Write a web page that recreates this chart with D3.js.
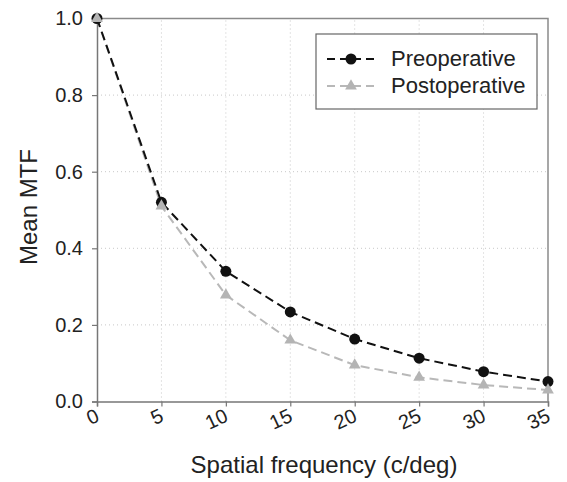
<!doctype html>
<html>
<head>
<style>
  body { margin: 0; background: #fff; }
  text { font-family: "Liberation Sans", Arial, sans-serif; }
</style>
<script src="https://d3js.org/d3.v7.min.js"></script>
</head>
<body>
<svg width="567" height="482"></svg>
<script>
// data
var freq = [0, 5, 10, 15, 20, 25, 30, 35];
var preop = [1.0, 0.52, 0.34, 0.234, 0.163, 0.113, 0.078, 0.052];
var postop = [1.0, 0.51, 0.278, 0.16, 0.095, 0.063, 0.043, 0.03];
var yTicks = [0, 0.2, 0.4, 0.6, 0.8, 1.0];
var seriesNames = ["Preoperative", "Postoperative"];

var svg = d3.select("svg");

var x = d3.scaleLinear().domain([0, 35]).range([97, 548]);
var y = d3.scaleLinear().domain([0, 1]).range([401.5, 18.5]);

// dotted grid
svg.append("g").selectAll("line")
   .data(freq.filter(function(d) { return d > 0 && d < 35; }))
   .enter().append("line")
   .attr("x1", function(d) { return x(d); })
   .attr("x2", function(d) { return x(d); })
   .attr("y1", y(0)).attr("y2", y(1))
   .attr("stroke", "#c8c8c8").attr("stroke-width", 1)
   .attr("stroke-dasharray", "1,3");

svg.append("g").selectAll("line")
   .data(yTicks.filter(function(d) { return d > 0 && d < 1; }))
   .enter().append("line")
   .attr("x1", x(0)).attr("x2", x(35))
   .attr("y1", function(d) { return y(d); })
   .attr("y2", function(d) { return y(d); })
   .attr("stroke", "#c8c8c8").attr("stroke-width", 1)
   .attr("stroke-dasharray", "1,3");

// frame top / right
svg.append("path")
   .attr("d", "M" + x(0) + "," + y(1) + "H" + x(35) + "V" + y(0))
   .attr("fill", "none").attr("stroke", "#8a8a8a").attr("stroke-width", 1.5);

// axes
var yAxis = svg.append("g")
   .attr("transform", "translate(" + x(0) + ",0)")
   .call(d3.axisLeft(y).tickValues(yTicks).tickSize(5).tickPadding(9)
         .tickFormat(d3.format(".1f")));
var xAxis = svg.append("g")
   .attr("transform", "translate(0," + y(0) + ")")
   .call(d3.axisBottom(x).tickValues(freq).tickSize(5));

[xAxis, yAxis].forEach(function(a) {
    a.select(".domain").attr("stroke", "#777").attr("stroke-width", 1.5);
    a.selectAll(".tick line").attr("stroke", "#777").attr("stroke-width", 1.2);
    a.selectAll("text").attr("fill", "#222").attr("font-size", "20px")
     .attr("font-family", "Liberation Sans, Arial, sans-serif");
});

xAxis.selectAll(".tick text")
     .attr("text-anchor", "end")
     .attr("y", 0).attr("dy", 0)
     .attr("transform", "translate(3,19) rotate(-25)");

// axis titles
svg.append("text")
   .attr("x", 324).attr("y", 473)
   .attr("text-anchor", "middle")
   .attr("font-size", "24px").attr("fill", "#222")
   .text("Spatial frequency (c/deg)");

svg.append("text")
   .attr("transform", "translate(37,207) rotate(-90)")
   .attr("text-anchor", "middle")
   .attr("font-size", "24px").attr("fill", "#222")
   .text("Mean MTF");

// lines
var line = d3.line()
   .x(function(d, i) { return x(freq[i]); })
   .y(function(d) { return y(d); });

svg.append("path").datum(postop)
   .attr("d", line).attr("fill", "none")
   .attr("stroke", "#b8b8b8").attr("stroke-width", 2)
   .attr("stroke-dasharray", "9,5");

svg.append("path").datum(preop)
   .attr("d", line).attr("fill", "none")
   .attr("stroke", "#111").attr("stroke-width", 2)
   .attr("stroke-dasharray", "9,5");

var tri = d3.symbol().type(d3.symbolTriangle).size(60);

svg.append("g").selectAll("circle")
   .data(preop).enter().append("circle")
   .attr("cx", function(d, i) { return x(freq[i]); })
   .attr("cy", function(d) { return y(d); })
   .attr("r", 5.5).attr("fill", "#111");

svg.append("g").selectAll("path")
   .data(postop).enter().append("path")
   .attr("d", tri)
   .attr("transform", function(d, i) { return "translate(" + x(freq[i]) + "," + y(d) + ")"; })
   .attr("fill", "#b4b4b4");

// legend
var lg = svg.append("g");
lg.append("rect")
  .attr("x", 316).attr("y", 34).attr("width", 221).attr("height", 75)
  .attr("fill", "#fff").attr("stroke", "#666").attr("stroke-width", 1.2);

var legendColors = ["#111", "#b8b8b8"];
seriesNames.forEach(function(name, i) {
    var cy = 59 + i * 27;
    lg.append("line")
      .attr("x1", 327).attr("x2", 378).attr("y1", cy).attr("y2", cy)
      .attr("stroke", legendColors[i]).attr("stroke-width", 2)
      .attr("stroke-dasharray", "8,5");
    if (i === 0) {
        lg.append("circle").attr("cx", 351).attr("cy", cy).attr("r", 5.5).attr("fill", "#111");
    } else {
        lg.append("path").attr("d", tri)
          .attr("transform", "translate(351," + cy + ")").attr("fill", "#b4b4b4");
    }
    lg.append("text")
      .attr("x", 391).attr("y", cy + 7)
      .attr("font-size", "22px").attr("fill", "#222")
      .text(name);
});
</script>
</body>
</html>
